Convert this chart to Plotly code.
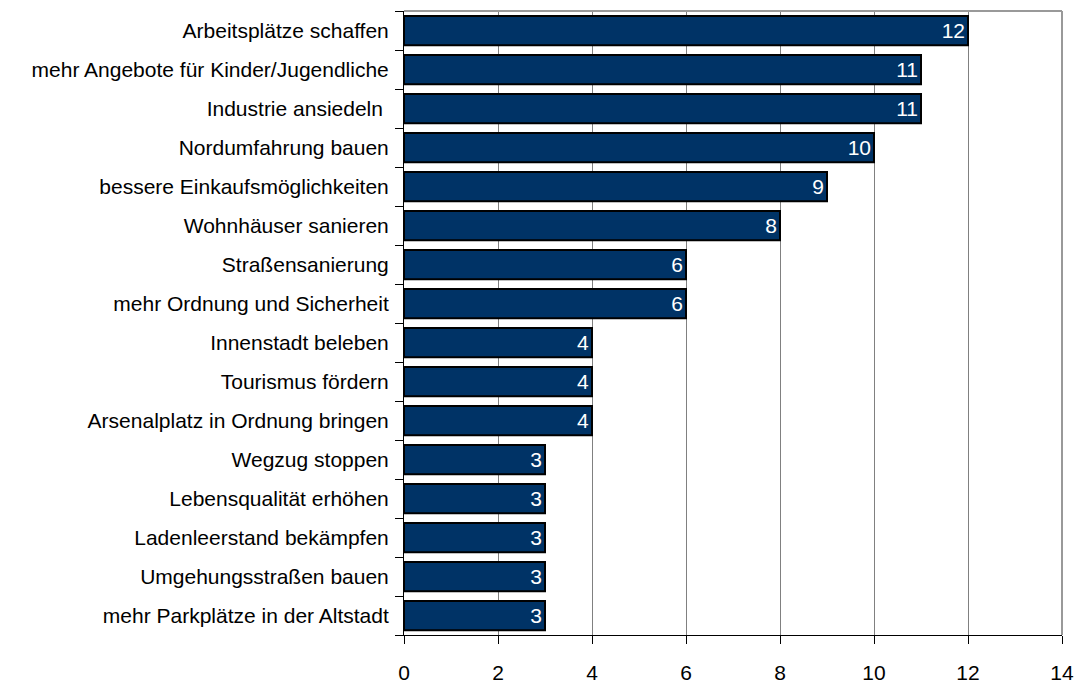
import plotly.graph_objects as go

# Maßnahmen und Anzahl der Nennungen (von oben nach unten)
massnahmen = [
    "Arbeitsplätze schaffen",
    "mehr Angebote für Kinder/Jugendliche",
    "Industrie ansiedeln ",
    "Nordumfahrung bauen",
    "bessere Einkaufsmöglichkeiten",
    "Wohnhäuser sanieren",
    "Straßensanierung",
    "mehr Ordnung und Sicherheit",
    "Innenstadt beleben",
    "Tourismus fördern",
    "Arsenalplatz in Ordnung bringen",
    "Wegzug stoppen",
    "Lebensqualität erhöhen",
    "Ladenleerstand bekämpfen",
    "Umgehungsstraßen bauen",
    "mehr Parkplätze in der Altstadt",
]
nennungen = [12, 11, 11, 10, 9, 8, 6, 6, 4, 4, 4, 3, 3, 3, 3, 3]
x_ticks = [0, 2, 4, 6, 8, 10, 12, 14]

FONT = "Liberation Sans, Arial, sans-serif"
n = len(massnahmen)
y_range = [n - 0.5, -0.5]
# Teilstriche auf den Grenzen zwischen den Kategorien
grenzen = [i - 0.5 for i in range(n + 1)]

fig = go.Figure()
fig.add_trace(
    go.Bar(
        x=nennungen,
        y=massnahmen,
        orientation="h",
        width=0.75,
        marker=dict(color="#003366", line=dict(color="#000000", width=2)),
        text=[str(v) for v in nennungen],
        textposition="inside",
        insidetextanchor="end",
        textangle=0,
        textfont=dict(color="white", size=21, family=FONT),
        hoverinfo="x+y",
    )
)
# leere Spur, damit die Hilfsachse mit den Grenz-Teilstrichen gezeichnet wird
fig.add_trace(
    go.Scatter(x=[None], y=[None], yaxis="y2", mode="markers",
               showlegend=False, hoverinfo="skip")
)

fig.update_layout(
    width=1081,
    height=686,
    margin=dict(l=404, r=19, t=11, b=51),
    paper_bgcolor="white",
    plot_bgcolor="white",
    showlegend=False,
    font=dict(family=FONT, size=20, color="#000000"),
    xaxis=dict(
        range=[0, 14],
        tickvals=x_ticks,
        ticks="outside",
        ticklen=8,
        tickcolor="#000000",
        showgrid=True,
        gridcolor="#808080",
        gridwidth=1,
        showline=True,
        linecolor="#000000",
        linewidth=1,
        zeroline=False,
        tickfont=dict(size=21),
        ticklabelstandoff=11,
        automargin=False,
    ),
    yaxis=dict(
        categoryorder="array",
        categoryarray=massnahmen,
        range=y_range,
        ticks="",
        showline=True,
        linecolor="#000000",
        linewidth=1,
        showgrid=False,
        tickfont=dict(size=21),
        ticklabelstandoff=10,
        automargin=False,
    ),
    yaxis2=dict(
        overlaying="y",
        anchor="x",
        side="left",
        range=y_range,
        tickvals=grenzen,
        ticks="outside",
        ticklen=8,
        tickcolor="#000000",
        showticklabels=False,
        showgrid=False,
        zeroline=False,
        showline=False,
        automargin=False,
    ),
    shapes=[
        dict(type="line", xref="paper", yref="paper", x0=0, x1=1, y0=1, y1=1,
             line=dict(color="#999999", width=2)),
        dict(type="line", xref="paper", yref="paper", x0=1, x1=1, y0=0, y1=1,
             line=dict(color="#999999", width=2)),
    ],
)

fig.write_html("out.html")
